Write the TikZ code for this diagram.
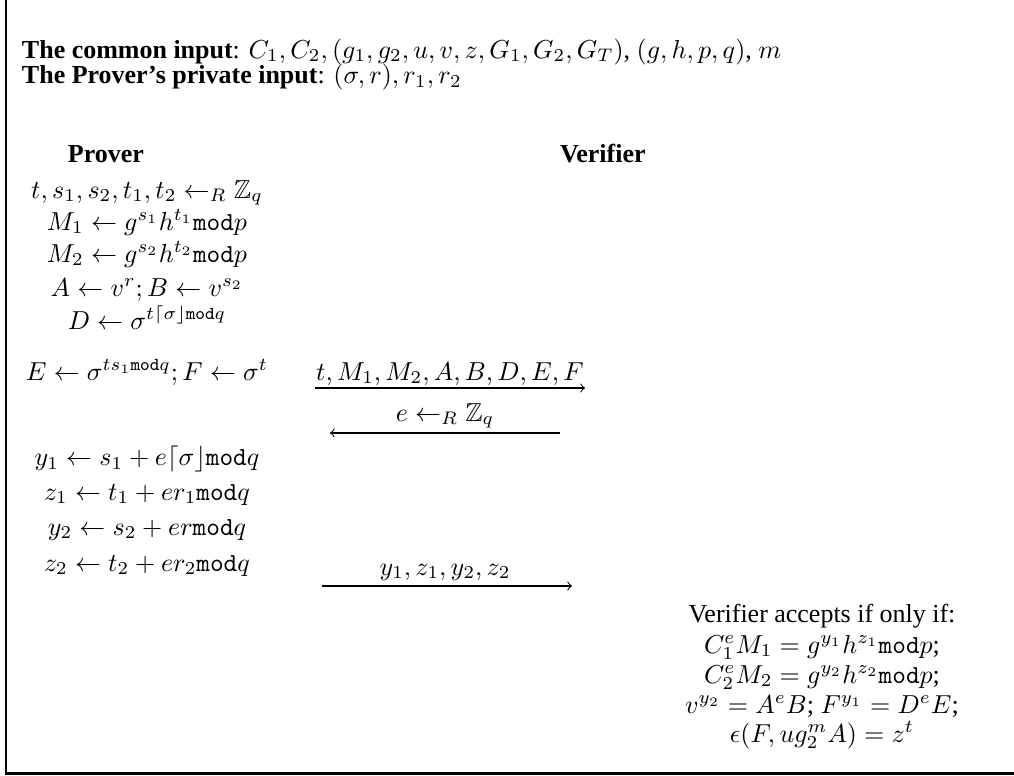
\documentclass[tikz,border=0pt]{standalone}
\usepackage{amsmath,amssymb}
\usepackage{fontspec}
\setmainfont{Liberation Serif}
\begin{document}
\begin{tikzpicture}[x=0.385pt,y=-0.385pt,
  every node/.style={inner sep=0pt, outer sep=0pt},
  row/.style={anchor=base},
  lefttext/.style={anchor=base west},
  msg/.style={->, line width=0.4pt},
  frame/.style={line width=0.8pt}]
\useasboundingbox (0,0) rectangle (1014,776);
\draw[frame] (6,0) -- (6,773.5) -- (1014,773.5);

\node[lefttext] (common) at (22,58) {\textbf{The common input}: $C_1, C_2, (g_1, g_2, u, v, z, G_1, G_2, G_T)$, $(g, h, p, q)$, $m$};
\node[lefttext] (private) at (22,84) {\textbf{The Prover’s private input}: $(\sigma, r), r_1, r_2$};

\node[lefttext] (ph) at (68,162) {\textbf{Prover}};
\node[lefttext] (vh) at (560,162) {\textbf{Verifier}};

\node[row] (p1) at (147,198) {$t, s_1, s_2, t_1, t_2 \leftarrow_R \mathbb{Z}_q$};
\node[row] (p2) at (147,230) {$M_1 \leftarrow g^{s_1}h^{t_1}\mathtt{mod}p$};
\node[row] (p3) at (147,262) {$M_2 \leftarrow g^{s_2}h^{t_2}\mathtt{mod}p$};
\node[row] (p4) at (147,296) {$A \leftarrow v^{r}; B \leftarrow v^{s_2}$};
\node[row] (p5) at (147,329) {$D \leftarrow \sigma^{t\lceil\sigma\rfloor\mathtt{mod}q}$};
\node[row] (p6) at (147,380) {$E \leftarrow \sigma^{ts_1\mathtt{mod}q}; F \leftarrow \sigma^{t}$};

\coordinate (a1s) at (315,388);
\coordinate (a1e) at (585,388);
\draw[msg] (a1s) -- (a1e);
\node[row] (l1) at (450,380) {$t, M_1, M_2, A, B, D, E, F$};

\coordinate (a2s) at (560,433);
\coordinate (a2e) at (330,433);
\draw[msg] (a2s) -- (a2e);
\node[row] (l2) at (445,421) {$e \leftarrow_R \mathbb{Z}_q$};

\node[row] (q1) at (147,466) {$y_1 \leftarrow s_1 + e\lceil\sigma\rfloor\mathtt{mod}q$};
\node[row] (q2) at (147,500) {$z_1 \leftarrow t_1 + er_1\mathtt{mod}q$};
\node[row] (q3) at (147,535) {$y_2 \leftarrow s_2 + er\mathtt{mod}q$};
\node[row] (q4) at (147,571) {$z_2 \leftarrow t_2 + er_2\mathtt{mod}q$};

\coordinate (a3s) at (322,586);
\coordinate (a3e) at (572,586);
\draw[msg] (a3s) -- (a3e);
\node[row] (l3) at (445,575) {$y_1, z_1, y_2, z_2$};

\node[row] (v0) at (822,622) {Verifier accepts if only if:};
\node[row] (v1) at (822,653) {$C_1^eM_1 = g^{y_1}h^{z_1}\mathtt{mod}p$;};
\node[row] (v2) at (822,683) {$C_2^eM_2 = g^{y_2}h^{z_2}\mathtt{mod}p$;};
\node[row] (v3) at (822,713) {$v^{y_2} = A^eB$; $F^{y_1} = D^eE$;};
\node[row] (v4) at (822,742) {$\epsilon(F, ug_2^mA) = z^t$};
\end{tikzpicture}
\end{document}
